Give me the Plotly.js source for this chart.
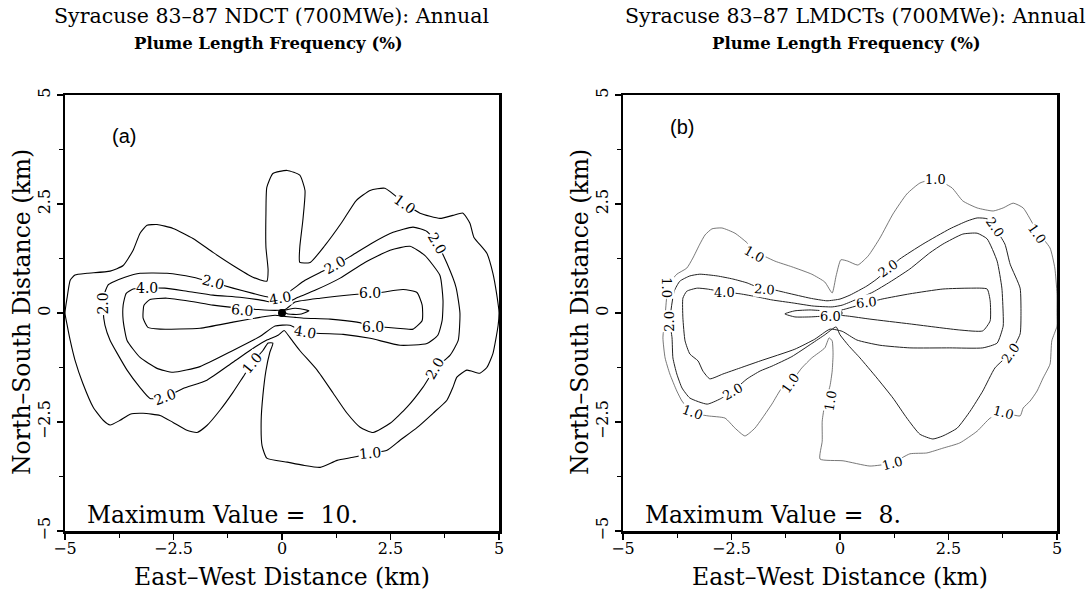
<!DOCTYPE html>
<html><head><meta charset="utf-8">
<script src="https://cdn.plot.ly/plotly-3.0.1.min.js"></script>
<style>html,body{margin:0;padding:0;background:#fff}#chart{width:1091px;height:594px}</style>
</head><body><div id="chart"></div>
<script>
// ---------- Panel (a): NDCT, contour polylines (km) ----------
const a_lvl1 = [[-5.0,0.0],[-4.95,0.36],[-4.88,0.75],[-4.77,0.87],[-4.49,0.91],[-3.96,0.96],[-3.66,1.09],[-3.43,1.44],[-3.27,1.83],[-3.11,2.01],[-2.88,2.03],[-2.51,1.94],[-2.05,1.71],[-1.59,1.39],[-1.13,1.09],[-0.67,0.82],[-0.35,0.73],[-0.32,0.98],[-0.37,1.51],[-0.37,2.29],[-0.35,2.88],[-0.21,3.20],[0.12,3.27],[0.41,3.16],[0.53,2.81],[0.48,2.12],[0.41,1.51],[0.41,1.16],[0.65,1.16],[0.99,1.55],[1.38,2.08],[1.71,2.58],[2.03,2.81],[2.37,2.86],[2.83,2.51],[3.18,2.29],[3.64,2.17],[3.94,2.24],[4.17,2.29],[4.33,2.06],[4.42,1.74],[4.72,1.37],[4.86,0.91],[4.95,0.41],[5.0,0.02],[4.98,-0.28],[4.86,-0.93],[4.72,-1.25],[4.56,-1.38],[4.26,-1.31],[4.03,-1.47],[3.94,-1.70],[3.80,-2.0],[3.48,-2.30],[3.11,-2.63],[2.72,-2.92],[2.42,-3.15],[2.03,-3.22],[1.64,-3.31],[1.27,-3.38],[0.88,-3.54],[0.48,-3.49],[0.12,-3.42],[-0.35,-3.33],[-0.46,-3.04],[-0.48,-2.46],[-0.44,-1.89],[-0.37,-1.32],[-0.28,-0.90],[-0.21,-0.69],[-0.32,-0.69],[-0.44,-0.86],[-0.69,-1.15],[-0.90,-1.47],[-1.13,-1.82],[-1.43,-2.23],[-1.73,-2.58],[-1.96,-2.74],[-2.19,-2.69],[-2.51,-2.51],[-2.81,-2.35],[-3.20,-2.30],[-3.50,-2.32],[-3.73,-2.46],[-3.96,-2.57],[-4.12,-2.46],[-4.35,-2.16],[-4.59,-1.61],[-4.77,-1.08],[-4.88,-0.63],[-4.95,-0.28],[-5.0,0.0]];
const a_lvl2 = [[-4.12,0.06],[-4.10,0.41],[-4.01,0.64],[-3.89,0.71],[-3.62,0.82],[-3.27,0.91],[-2.65,0.91],[-2.05,0.82],[-1.59,0.70],[-1.13,0.57],[-0.67,0.45],[-0.28,0.36],[-0.05,0.38],[0.18,0.50],[0.53,0.75],[0.88,0.93],[1.22,1.09],[1.61,1.32],[2.07,1.60],[2.56,1.85],[3.02,1.97],[3.34,1.87],[3.57,1.60],[3.80,1.14],[4.01,0.59],[4.10,0.0],[4.06,-0.63],[3.87,-0.97],[3.53,-1.27],[3.25,-1.70],[2.88,-2.16],[2.49,-2.53],[2.10,-2.74],[1.80,-2.62],[1.50,-2.30],[1.18,-1.84],[0.81,-1.31],[0.41,-0.86],[0.18,-0.56],[0.05,-0.40],[-0.09,-0.51],[-0.35,-0.62],[-0.62,-0.78],[-1.13,-1.13],[-1.73,-1.54],[-2.28,-1.73],[-2.70,-1.93],[-3.04,-1.96],[-3.27,-1.71],[-3.57,-1.31],[-3.80,-0.92],[-3.96,-0.63],[-4.08,-0.28],[-4.12,0.06]];
const a_lvl4 = [[-0.09,0.22],[-0.46,0.29],[-0.97,0.36],[-1.59,0.41],[-2.19,0.50],[-2.70,0.57],[-3.11,0.57],[-3.43,0.55],[-3.59,0.45],[-3.66,0.18],[-3.66,-0.17],[-3.57,-0.63],[-3.27,-1.02],[-2.88,-1.27],[-2.51,-1.36],[-1.89,-1.23],[-1.13,-0.86],[-0.51,-0.54],[-0.16,-0.30],[0.18,-0.28],[0.53,-0.44],[1.41,-0.49],[2.03,-0.58],[2.72,-0.74],[3.34,-0.70],[3.59,-0.51],[3.69,-0.17],[3.71,0.29],[3.64,0.86],[3.29,1.32],[2.95,1.53],[2.49,1.44],[1.91,1.16],[1.34,0.80],[0.76,0.52],[0.37,0.36],[0.14,0.25],[-0.09,0.22]];
const a_lvl6 = [[0.07,0.08],[-0.16,0.06],[-0.55,0.08],[-0.97,0.11],[-1.59,0.18],[-2.12,0.27],[-2.65,0.34],[-3.04,0.31],[-3.18,0.18],[-3.20,-0.12],[-3.09,-0.33],[-2.81,-0.37],[-1.89,-0.35],[-1.13,-0.21],[-0.51,-0.10],[-0.16,-0.05],[0.07,-0.08],[0.30,-0.10],[0.53,-0.12],[1.11,-0.14],[1.73,-0.21],[2.10,-0.30],[2.65,-0.35],[3.02,-0.37],[3.23,-0.17],[3.23,0.18],[3.11,0.47],[2.79,0.54],[2.26,0.47],[1.73,0.43],[0.88,0.34],[0.30,0.25],[0.07,0.08]];
const a_lvl8 = [[0.05,0.05],[0.30,0.11],[0.62,0.05],[0.40,-0.03],[0.12,-0.02],[0.05,0.05]];
const a_labels = ['2.0','4.0','2.0','6.0','4.0','2.0','6.0','6.0','4.0','1.0','2.0','2.0','1.0','2.0','1.0'];
const a_labX = [-4.12,-3.11,-1.59,-0.92,-0.05,1.22,2.03,2.10,0.53,2.83,3.57,3.53,2.03,-2.70,-0.69];
const a_labY = [0.22,0.57,0.70,0.06,0.34,1.09,0.45,-0.33,-0.44,2.51,1.60,-1.27,-3.22,-1.93,-1.15];
const a_labAng = [-90,0,15,5,-10,-30,0,0,10,35,60,-60,-5,-20,-50];

// ---------- Panel (b): LMDCTs ----------
const b_lvl1 = [[-4.03,-1.03],[-4.08,-0.57],[-4.03,-0.07],[-3.99,0.39],[-3.92,0.69],[-3.76,0.89],[-3.53,1.03],[-3.39,1.26],[-3.23,1.58],[-3.11,1.79],[-2.95,1.93],[-2.72,1.95],[-2.42,1.83],[-2.14,1.61],[-1.96,1.42],[-1.50,1.19],[-1.11,1.06],[-0.65,0.89],[-0.35,0.71],[-0.18,0.46],[-0.09,0.85],[0.02,1.22],[0.18,1.19],[0.41,1.10],[0.65,1.31],[0.92,1.72],[1.22,2.27],[1.54,2.73],[1.84,2.98],[2.19,3.07],[2.58,2.87],[2.83,2.57],[3.16,2.41],[3.53,2.34],[3.76,2.41],[3.99,2.52],[4.22,2.41],[4.54,1.88],[4.84,1.49],[4.95,1.03],[5.0,0.44],[5.0,-0.02],[5.0,-0.30],[4.88,-0.64],[4.84,-1.17],[4.68,-1.49],[4.54,-1.79],[4.38,-2.02],[4.22,-2.18],[4.15,-2.36],[3.76,-2.29],[3.46,-2.41],[3.16,-2.71],[2.76,-2.98],[2.37,-3.10],[2.0,-3.21],[1.61,-3.23],[1.20,-3.44],[0.69,-3.51],[0.07,-3.39],[-0.46,-3.35],[-0.41,-2.94],[-0.41,-2.48],[-0.35,-2.09],[-0.23,-1.67],[-0.18,-1.33],[-0.16,-0.94],[-0.18,-0.64],[-0.25,-0.57],[-0.35,-0.80],[-0.65,-1.03],[-0.88,-1.26],[-1.15,-1.61],[-1.34,-1.72],[-1.57,-2.09],[-1.96,-2.64],[-2.19,-2.82],[-2.42,-2.64],[-2.65,-2.41],[-3.04,-2.36],[-3.39,-2.29],[-3.64,-2.02],[-3.76,-1.79],[-3.92,-1.40],[-4.03,-1.03]];
const b_lvl2 = [[0.0,0.32],[-0.30,0.28],[-0.69,0.34],[-1.22,0.46],[-1.61,0.55],[-1.84,0.57],[-2.14,0.69],[-2.47,0.78],[-2.83,0.85],[-3.23,0.89],[-3.46,0.85],[-3.69,0.73],[-3.82,0.50],[-3.92,-0.18],[-3.87,-0.57],[-3.85,-1.03],[-3.76,-1.40],[-3.64,-1.72],[-3.46,-1.95],[-3.06,-2.09],[-2.76,-1.97],[-2.47,-1.79],[-2.14,-1.51],[-1.84,-1.33],[-1.57,-1.22],[-1.11,-1.0],[-0.65,-0.70],[-0.35,-0.50],[-0.09,-0.32],[0.0,-0.50],[0.20,-0.75],[0.46,-1.03],[0.85,-1.49],[1.22,-1.95],[1.54,-2.41],[1.84,-2.78],[2.14,-2.89],[2.37,-2.82],[2.70,-2.64],[3.0,-2.25],[3.29,-1.79],[3.57,-1.26],[3.92,-0.92],[4.15,-0.48],[4.17,-0.02],[4.15,0.57],[3.92,1.12],[3.80,1.58],[3.57,1.95],[3.39,2.16],[3.16,2.18],[2.93,2.11],[2.53,1.93],[1.91,1.58],[1.38,1.24],[1.11,1.01],[0.85,0.78],[0.62,0.62],[0.23,0.41],[0.0,0.32]];
const b_lvl4 = [[-0.18,0.14],[-0.62,0.16],[-1.08,0.23],[-1.57,0.30],[-1.91,0.37],[-2.30,0.44],[-2.65,0.48],[-3.06,0.55],[-3.29,0.57],[-3.53,0.50],[-3.62,0.34],[-3.62,-0.11],[-3.57,-0.64],[-3.46,-0.94],[-3.27,-1.10],[-3.16,-1.33],[-3.0,-1.51],[-2.70,-1.40],[-2.30,-1.26],[-1.84,-1.10],[-1.04,-0.83],[-0.58,-0.60],[-0.23,-0.37],[0.05,-0.42],[0.39,-0.62],[0.92,-0.74],[1.61,-0.80],[2.53,-0.80],[3.29,-0.80],[3.62,-0.69],[3.76,-0.30],[3.76,-0.02],[3.73,0.57],[3.62,1.19],[3.39,1.70],[3.16,1.83],[2.83,1.81],[2.37,1.58],[2.07,1.38],[1.61,1.01],[1.15,0.71],[0.76,0.48],[0.35,0.30],[0.05,0.18],[-0.18,0.14]];
const b_lvl6 = [[-0.05,0.05],[-0.35,0.05],[-0.69,0.07],[-1.04,0.05],[-1.27,-0.02],[-1.04,-0.09],[-0.69,-0.09],[-0.35,-0.07],[-0.05,-0.05],[0.18,-0.07],[0.69,-0.14],[1.61,-0.25],[2.76,-0.39],[3.29,-0.41],[3.46,-0.18],[3.46,0.28],[3.39,0.55],[3.0,0.57],[2.37,0.55],[1.61,0.44],[0.97,0.32],[0.62,0.23],[0.12,0.09],[-0.05,0.05]];
const b_labels = ['1.0','1.0','2.0','4.0','2.0','6.0','6.0','2.0','1.0','2.0','1.0','2.0','1.0','1.0','1.0','1.0','2.0','1.0'];
const b_labX = [-1.96,-3.99,-3.92,-2.65,-1.73,-0.23,0.62,1.11,2.19,3.57,4.54,3.92,3.76,1.20,-0.23,-1.15,-2.47,-3.39];
const b_labY = [1.35,0.57,-0.18,0.46,0.53,-0.07,0.23,1.01,3.07,1.95,1.83,-0.92,-2.29,-3.46,-2.02,-1.61,-1.79,-2.29];
const b_labAng = [30,90,-90,0,5,0,-5,-35,0,55,55,-55,15,-15,-80,-55,-30,20];

// ---------- Axis ticks and texts ----------
const tickVals = [-5,-2.5,0,2.5,5];
const tickText = ['\u22125','\u22122.5','0','2.5','5'];
const maxA = 'Maximum Value =  10.';
const maxB = 'Maximum Value =  8.';

const traces = [];
function addLine(pts, xa, ya, color, width){
  traces.push({type:'scatter', mode:'lines', x: pts.map(p=>p[0]), y: pts.map(p=>p[1]),
    xaxis: xa, yaxis: ya, line:{color:color, width:width, shape:'spline', smoothing:0.5},
    hoverinfo:'skip', showlegend:false});
}
addLine(a_lvl1,'x','y','#000',1.1);
addLine(a_lvl2,'x','y','#000',1.1);
addLine(a_lvl4,'x','y','#000',1.1);
addLine(a_lvl6,'x','y','#000',1.1);
addLine(a_lvl8,'x','y','#000',1.1);
addLine(b_lvl1,'x2','y2','#555',0.8);
addLine(b_lvl2,'x2','y2','#222',1);
addLine(b_lvl4,'x2','y2','#222',1);
addLine(b_lvl6,'x2','y2','#222',1);
traces.push({type:'scatter',mode:'markers',x:[0],y:[0],xaxis:'x',yaxis:'y',marker:{color:'#000',size:8},hoverinfo:'skip',showlegend:false});
traces.push({type:'scatter',mode:'markers',x:[0],y:[0],xaxis:'x2',yaxis:'y2',marker:{color:'#000',size:5},hoverinfo:'skip',showlegend:false});

const SERIF = 'DejaVu Serif, Liberation Serif, serif';
function axis(domain, anchor, isY){
  const ax = {domain:domain, anchor:anchor, range:[-5,5], autorange:false, showgrid:false, zeroline:false,
    showline:true, linewidth:2.5, linecolor:'#000', mirror:true,
    ticks:'outside', ticklen:6, tickwidth:1.5, tickcolor:'#000',
    tickvals:tickVals, ticktext:tickText,
    tickfont:{family:SERIF, size:16, color:'#000'},
    minor:{tickvals:[-3.75,-1.25,1.25,3.75], ticks:'outside', ticklen:4, tickwidth:1.2, tickcolor:'#000', showgrid:false}
  };
  if(isY) ax.tickangle = -90; else ax.ticklabelstandoff = -5;
  return ax;
}
const W = 1091, H = 594;
const px = v => v / W, py = v => 1 - v / H;

const ann = [];
function addLabels(t, xs, ys, angs, xr, yr, size){
  for(let i=0;i<t.length;i++){
    ann.push({x:xs[i], y:ys[i], xref:xr, yref:yr, text:t[i], textangle:angs[i], showarrow:false,
      font:{family:SERIF, size:size, color:'#000'}, bgcolor:'#fff', borderpad:0});
  }
}
addLabels(a_labels, a_labX, a_labY, a_labAng, 'x', 'y', 14);
addLabels(b_labels, b_labX, b_labY, b_labAng, 'x2', 'y2', 13);

function paperText(text, x, y, size, opts){
  ann.push(Object.assign({x:px(x), y:py(y), xref:'paper', yref:'paper', text:text, showarrow:false,
    font:{family:SERIF, size:size, color:'#000'}, xanchor:'center', yanchor:'middle'}, opts||{}));
}
// titles
paperText('Syracuse 83\u201387 NDCT (700MWe): Annual', 271, 16, 20.5);
paperText('<b>Plume Length Frequency (%)</b>', 268, 43, 16.5);
paperText('Syracuse 83\u201387 LMDCTs (700MWe): Annual', 855, 16, 20.5);
paperText('<b>Plume Length Frequency (%)</b>', 846, 43, 16.5);
// axis titles
paperText('East\u2013West Distance (km)', 282, 577, 23.5);
paperText('East\u2013West Distance (km)', 840, 577, 23.5);
paperText('North\u2013South Distance (km)', 22, 312, 23.5, {textangle:-90});
paperText('North\u2013South Distance (km)', 580, 312, 23.5, {textangle:-90});
// panel letters
paperText('(a)', 124, 136, 20, {font:{family:'Liberation Sans, Arial, sans-serif', size:20, color:'#000'}});
paperText('(b)', 682, 127, 20, {font:{family:'Liberation Sans, Arial, sans-serif', size:20, color:'#000'}});
// maximum values
paperText(maxA, 85, 515, 23.5, {xanchor:'left'});
paperText(maxB, 643, 515, 23.5, {xanchor:'left'});

const layout = {
  width:W, height:H, margin:{l:0,r:0,t:0,b:0}, paper_bgcolor:'#fff', plot_bgcolor:'#fff',
  showlegend:false,
  xaxis: axis([65/W, 499/W], 'y', false),
  yaxis: axis([1-531/H, 1-95/H], 'x', true),
  xaxis2: axis([623/W, 1057/W], 'y2', false),
  yaxis2: axis([1-531/H, 1-95/H], 'x2', true),
  annotations: ann
};
Plotly.newPlot('chart', traces, layout, {staticPlot:true});
</script>
</body></html>
